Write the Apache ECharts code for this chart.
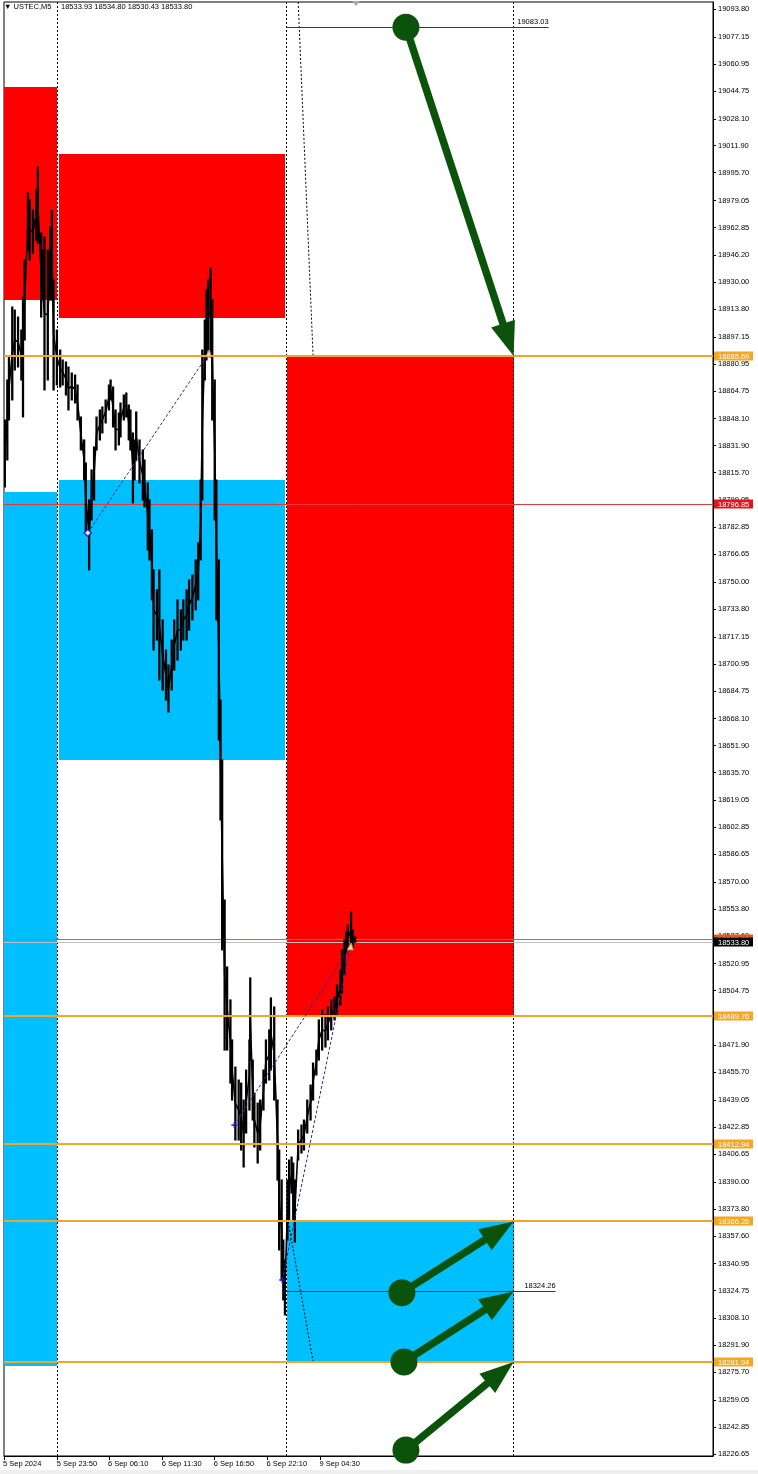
<!DOCTYPE html>
<html><head><meta charset="utf-8">
<script src="https://cdn.jsdelivr.net/npm/echarts@6/dist/echarts.min.js"></script>
<style>html,body{margin:0;padding:0;background:#fff}#c{width:758px;height:1474px}</style>
</head><body><div id="c"></div>
<script>
// ---------- DATA ----------
const symbolText = '\u25BC USTEC,M5';
const ohlcText = '18533.93 18534.80 18530.43 18533.80';

const priceTicks = [19093.80,19077.15,19060.95,19044.75,19028.10,19011.90,18995.70,18979.05,18962.85,18946.20,18930.00,18913.80,18897.15,18880.95,18864.75,18848.10,18831.90,18815.70,18799.05,18782.85,18766.65,18750.00,18733.80,18717.15,18700.95,18684.75,18668.10,18651.90,18635.70,18619.05,18602.85,18586.65,18570.00,18553.80,18537.60,18520.95,18504.75,18488.55,18471.90,18455.70,18439.05,18422.85,18406.65,18390.00,18373.80,18357.60,18340.95,18324.75,18308.10,18291.90,18275.70,18259.05,18242.85,18226.65];

// x axis in M5 bar index
const timeTickBars = [0,65,127,192,255,319,383];
const timeTickLabels = ['5 Sep 2024','5 Sep 23:50','6 Sep 06:10','6 Sep 11:30','6 Sep 16:50','6 Sep 22:10','9 Sep 04:30'];

const barIndex = [1,4,6,10,13,17,21,23,25,29,31,35,39,41,45,47,49,53,56,58,60,64,68,71,75,78,82,86,89,93,97,99,103,106,109,112,116,119,123,127,129,132,135,139,141,145,148,151,153,156,158,160,164,168,170,174,176,179,181,185,188,192,196,199,203,206,210,214,217,221,224,228,232,235,238,240,243,245,247,250,252,255,257,260,262,264,267,270,274,276,280,284,287,290,293,297,298,301,303,307,310,314,317,321,323,327,331,333,336,338,340,343,345,348,350,352,356,360,363,367,371,374,378,381,385,389,392,396,400,403,407,409,412,414,416,420,422,425];
const barHigh = [18847.3,18871.3,18885.1,18915.1,18913.3,18909.1,18901.3,18921.1,18943.3,18983.6,18979.4,18973.3,18985.4,18999.2,18959.5,18949.3,18957.1,18949.3,18963.1,18973.3,18931.3,18901.3,18889.3,18883.3,18882.1,18879.1,18875.5,18874.3,18868.3,18849.1,18835.3,18821.5,18799.3,18817.3,18831.1,18849.1,18853.3,18855.1,18859.3,18868.3,18871.3,18867.1,18853.3,18851.5,18857.5,18862.3,18863.5,18856.3,18853.3,18839.5,18835.3,18852.1,18835.3,18829.3,18823.3,18809.5,18799.3,18781.3,18757.3,18745.3,18757.3,18727.3,18709.2,18700.2,18715.2,18727.3,18739.3,18733.3,18739.3,18745.3,18751.3,18754.3,18763.3,18773.5,18811.3,18889.3,18907.3,18925.3,18931.3,18938.5,18919.3,18871.3,18811.3,18763.3,18679.2,18643.2,18559.2,18519.0,18499.2,18475.2,18458.9,18451.1,18449.3,18439.1,18457.1,18475.2,18512.4,18463.1,18443.3,18437.3,18439.1,18457.1,18475.2,18481.2,18500.4,18495.0,18439.1,18409.1,18391.1,18355.1,18343.1,18391.1,18403.1,18404.9,18401.3,18391.1,18421.1,18424.1,18427.1,18439.1,18448.1,18461.3,18469.1,18487.2,18493.2,18490.2,18495.0,18499.2,18501.0,18508.2,18517.2,18529.2,18535.2,18540.0,18544.2,18552.0,18541.2,18537.0];
const barLow = [18807.1,18823.3,18847.3,18859.3,18877.3,18879.1,18871.3,18849.1,18895.3,18949.3,18943.3,18947.5,18955.3,18953.5,18909.1,18919.3,18865.3,18871.3,18919.3,18919.3,18865.3,18868.3,18867.1,18868.3,18862.3,18853.3,18859.3,18857.5,18847.3,18829.3,18811.3,18779.5,18757.3,18787.3,18799.3,18829.3,18835.3,18839.5,18845.5,18853.3,18859.3,18843.1,18829.3,18832.3,18837.1,18847.3,18849.1,18835.3,18829.3,18797.5,18811.3,18823.3,18809.5,18799.3,18795.1,18769.3,18763.3,18739.3,18709.2,18715.2,18691.2,18685.2,18679.2,18672.0,18685.2,18697.2,18703.2,18709.2,18715.2,18715.2,18721.2,18727.3,18733.3,18739.3,18763.3,18799.3,18871.3,18883.3,18889.3,18885.1,18847.3,18787.3,18727.3,18655.2,18607.2,18529.2,18469.1,18469.1,18449.3,18439.1,18415.1,18415.1,18409.1,18398.9,18419.3,18433.1,18463.1,18427.1,18410.9,18401.3,18409.1,18433.1,18449.3,18451.1,18457.1,18439.1,18391.1,18349.1,18331.1,18319.1,18310.1,18355.1,18367.1,18383.3,18367.1,18353.9,18403.1,18407.3,18409.1,18419.3,18427.1,18439.1,18454.1,18463.1,18469.1,18470.9,18475.2,18481.2,18487.2,18490.2,18496.2,18503.4,18514.2,18527.4,18529.2,18529.2,18530.4,18533.8];

// zones: [fromBar, toBar, topPrice, bottomPrice]
const supplyZones = [[0,64.5,19047.2,18919.3],[66.5,340.5,19006.9,18908.5],[342,616.7,18885.69,18489.76]];
const demandZones = [[0,64.5,18804.1,18279.5],[66.5,340.5,18811.3,18643.2],[342,616.7,18366.26,18281.94]];

const orangeLevels = [18885.69,18489.76,18412.94,18366.26,18281.94];
const redLevel = [18796.85];
const bidPrice = [18533.80];
const askPrice = [18535.60];

const separatorBars = [65.2,341.5,616.7];

// trend lines: [fromBar, price, toBar, price]
const trendLines = [[341.5,19083.03,659,19083.03],[341.5,18324.26,667.5,18324.26],[341.5,18366.26,667.5,18366.26],[341.5,18281.94,667.5,18281.94],[616.7,18885.69,659,18885.69]];
const trendLabels = ['19083.03','18324.26','','',''];

// slanted dotted lines: [fromBar, price, toBar, price]
const dottedLines = [[356,19098.2,374,18886.3],[344,18365.9,374,18282.4]];

// zigzag (dashed): [fromBar, price, toBar, price]
const zigzagLines = [[101.4,18779.5,247.4,18887.0],[278.8,18424.1,419,18531.0],[336.7,18331.1,419,18531.0]];

// arrows: [fromBar, price, toBar, price]
const arrows = [[486.4,19083.03,616.7,18885.69],[481.5,18323.5,616.7,18366.26],[484,18281.94,616.7,18324.26],[486.4,18229.0,616.7,18281.94]];

// price tags on axis: [price, kind] 0=orange 1=red 2=ask 3=bid
const tagPrices = [18885.69,18796.85,18535.60,18533.80,18489.76,18412.94,18366.26,18281.94];
const tagKinds  = [0,1,2,3,0,0,0,0];

// ---------- CHART ----------
const X_MAX = 858, Y_MIN = 18225.45, Y_MAX = 19098.18;
const FONT = '"Liberation Sans", Arial, sans-serif';
const FS = 7.5;
const ORANGE = '#f4a428', RED = '#ff0000', BLUE = '#00bfff', GREEN = '#0b530b';
const r5 = v => Math.round(v - 0.5) + 0.5;

const chart = echarts.init(document.getElementById('c'), null, {renderer:'canvas'});

function rectItem(color){
  return function(params, api){
    const a = api.coord([api.value(0), api.value(2)]);
    const b = api.coord([api.value(1), api.value(3)]);
    return {type:'rect', shape:{x:Math.round(a[0]), y:Math.round(a[1]), width:Math.round(b[0])-Math.round(a[0]), height:Math.round(b[1])-Math.round(a[1])}, style:{fill:color}};
  };
}
function hLine(color, width){
  return function(params, api){
    const p0 = api.coord([0, api.value(0)]);
    const p1 = api.coord([X_MAX, api.value(0)]);
    const y = width % 2 === 1 ? r5(p0[1]) : Math.round(p0[1]);
    return {type:'line', shape:{x1:p0[0], y1:y, x2:p1[0], y2:y}, style:{stroke:color, lineWidth:width}};
  };
}
const tagFill = ['#f5a623', '#e8141c', '#e25a1c', '#000000'];

const option = {
  animation:false,
  backgroundColor:'#ffffff',
  grid:{left:2, right:45, top:2, bottom:18, show:true, borderColor:'#000', borderWidth:1, backgroundColor:'#fff'},
  xAxis:{type:'value', min:0, max:X_MAX,
    axisLine:{show:true, onZero:false, lineStyle:{color:'#000', width:1}},
    axisTick:{show:true, length:4, customValues:timeTickBars, lineStyle:{color:'#000'}},
    axisLabel:{customValues:timeTickBars, formatter:v=>timeTickLabels[timeTickBars.indexOf(v)] || '', align:'left', margin:4, color:'#000', fontSize:FS, fontFamily:FONT, padding:[0,0,0,-1]},
    splitLine:{show:false}},
  yAxis:{type:'value', position:'right', min:Y_MIN, max:Y_MAX,
    axisLine:{show:true, onZero:false, lineStyle:{color:'#000', width:1}},
    axisTick:{show:true, length:3, customValues:priceTicks, lineStyle:{color:'#000'}},
    axisLabel:{customValues:priceTicks, formatter:v=>v.toFixed(2), margin:5, color:'#000', fontSize:FS, fontFamily:FONT},
    splitLine:{show:false}},
  graphic:[
    {type:'text', left:4, top:3, z:100, style:{text:symbolText, fill:'#000', font:FS+'px '+FONT}},
    {type:'text', left:61, top:3, z:100, style:{text:ohlcText, fill:'#000', font:FS+'px '+FONT}},
    {type:'polygon', z:100, shape:{points:[[352,1],[360,1],[356,6]]}, style:{fill:'#a8a8a8'}},
    {type:'rect', z:100, shape:{x:0,y:1470,width:758,height:4}, style:{fill:'#efefef'}}
  ],
  series:[
    {type:'custom', name:'supply', z:1, silent:true, clip:true, encode:{x:[0,1], y:[2,3]}, data:supplyZones, renderItem:rectItem(RED)},
    {type:'custom', name:'demand', z:1, silent:true, clip:true, encode:{x:[0,1], y:[2,3]}, data:demandZones, renderItem:rectItem(BLUE)},
    {type:'custom', name:'separators', z:2, silent:true, encode:{x:0}, data:separatorBars.map(b=>[b]), renderItem:function(params, api){
      const a = api.coord([api.value(0), Y_MAX]); const b = api.coord([api.value(0), Y_MIN]);
      const x = r5(a[0]);
      return {type:'line', shape:{x1:x, y1:a[1], x2:x, y2:b[1]}, style:{stroke:'#000', lineWidth:1, lineDash:[2,2]}};
    }},
    {type:'custom', name:'slanted', z:2, silent:true, data:dottedLines, renderItem:function(params, api){
      const a = api.coord([api.value(0), api.value(1)]); const b = api.coord([api.value(2), api.value(3)]);
      return {type:'line', shape:{x1:a[0], y1:a[1], x2:b[0], y2:b[1]}, style:{stroke:'#000', lineWidth:1, lineDash:[2,2]}};
    }},
    {type:'custom', name:'redLevel', z:3, silent:true, encode:{y:0}, data:redLevel.map(v=>[v]), renderItem:hLine('#e23a3a',1)},
    {type:'custom', name:'ask', z:3, silent:true, encode:{y:0}, data:askPrice.map(v=>[v]), renderItem:hLine('#d2691e',1)},
    {type:'custom', name:'bid', z:3, silent:true, encode:{y:0}, data:bidPrice.map(v=>[v]), renderItem:hLine('#c0c0c0',1)},
    {type:'custom', name:'trend', z:3, silent:true, data:trendLines.map((t,i)=>[t[0],t[1],t[2],t[3],i]), renderItem:function(params, api){
      const a = api.coord([api.value(0), api.value(1)]); const b = api.coord([api.value(2), api.value(3)]);
      const y = r5(a[1]);
      const children = [{type:'line', shape:{x1:a[0], y1:y, x2:b[0], y2:y}, style:{stroke:'#3a3a3a', lineWidth:1}}];
      const lab = trendLabels[api.value(4)];
      if (lab) children.push({type:'text', style:{text:lab, x:b[0], y:y-1.5, fill:'#000', font:FS+'px '+FONT, align:'right', verticalAlign:'bottom', textAlign:'right', textVerticalAlign:'bottom'}});
      return {type:'group', children};
    }},
    {type:'custom', name:'price', z:4, silent:true, clip:true, encode:{x:0, y:[1,2]}, data:barIndex.map((b,i)=>[b, barHigh[i], barLow[i]]), renderItem:function(params, api){
      const h = api.coord([api.value(0), api.value(1)]); const l = api.coord([api.value(0), api.value(2)]);
      return {type:'line', shape:{x1:h[0], y1:h[1]-0.5, x2:l[0], y2:l[1]+0.5}, style:{stroke:'#000', lineWidth:2.3}};
    }},
    {type:'line', name:'priceMid', z:4, silent:true, symbol:'none', data:barIndex.map((b,i)=>[b,(barHigh[i]+barLow[i])/2]), lineStyle:{color:'#000', width:1.6}},
    {type:'custom', name:'orangeLevels', z:5, silent:true, encode:{y:0}, data:orangeLevels.map(v=>[v]), renderItem:hLine(ORANGE,2)},
    {type:'custom', name:'zigzag', z:6, silent:true, data:zigzagLines, renderItem:function(params, api){
      const a = api.coord([api.value(0), api.value(1)]); const b = api.coord([api.value(2), api.value(3)]);
      const i = params.dataIndex;
      const ch = [{type:'line', shape:{x1:a[0], y1:a[1], x2:b[0], y2:b[1]}, style:{stroke:'#2c2c90', lineWidth:1, lineDash:[3,2]}}];
      if (i === 0) ch.push({type:'polygon', shape:{points:[[a[0],a[1]-3.5],[a[0]+3.5,a[1]],[a[0],a[1]+3.5],[a[0]-3.5,a[1]]]}, style:{fill:'#dfe6ff', stroke:'#1a1ad0', lineWidth:1.2}});
      else {
        ch.push({type:'line', shape:{x1:a[0]-3, y1:a[1], x2:a[0]+3, y2:a[1]}, style:{stroke:'#1a1ad0', lineWidth:1.5}});
        ch.push({type:'line', shape:{x1:a[0], y1:a[1]-3, x2:a[0], y2:a[1]+3}, style:{stroke:'#1a1ad0', lineWidth:1.5}});
      }
      ch.push({type:'polygon', shape:{points:[[b[0]-3,b[1]+3],[b[0]+3,b[1]+3],[b[0]+1,b[1]-4]]}, style:{fill:'#f3d6a8', stroke:'#c08040', lineWidth:0.8}});
      return {type:'group', children:ch};
    }},
    {type:'custom', name:'arrows', z:7, silent:true, data:arrows, renderItem:function(params, api){
      const s = api.coord([api.value(0), api.value(1)]);
      const e = api.coord([api.value(2), api.value(3)]);
      const dx = e[0]-s[0], dy = e[1]-s[1], L = Math.hypot(dx,dy), ux = dx/L, uy = dy/L;
      const hl = 34, hw = 12.5;
      const bx = e[0]-ux*hl, by = e[1]-uy*hl, px = -uy, py = ux;
      return {type:'group', children:[
        {type:'line', shape:{x1:s[0], y1:s[1], x2:bx+ux*2, y2:by+uy*2}, style:{stroke:GREEN, lineWidth:7.5}},
        {type:'circle', shape:{cx:s[0], cy:s[1], r:13.5}, style:{fill:GREEN}},
        {type:'polygon', shape:{points:[[e[0],e[1]],[bx+px*hw,by+py*hw],[bx-px*hw,by-py*hw]]}, style:{fill:GREEN}}
      ]};
    }},
    {type:'custom', name:'tags', z:20, silent:true, clip:false, encode:{y:0}, data:tagPrices.map((p,i)=>[p, tagKinds[i]]), renderItem:function(params, api){
      const p = api.coord([X_MAX, api.value(0)]);
      const k = api.value(1);
      const x = Math.round(p[0]) + 1, y = Math.round(p[1]);
      return {type:'group', children:[
        {type:'rect', shape:{x:x, y:y-4.5, width:39, height:9}, style:{fill:tagFill[k]}},
        {type:'text', style:{text:api.value(0).toFixed(2), x:x+4, y:y+0.5, fill:'#fff', font:FS+'px '+FONT, align:'left', verticalAlign:'middle', textAlign:'left', textVerticalAlign:'middle'}}
      ]};
    }}
  ]
};
chart.setOption(option);
</script>
</body></html>
